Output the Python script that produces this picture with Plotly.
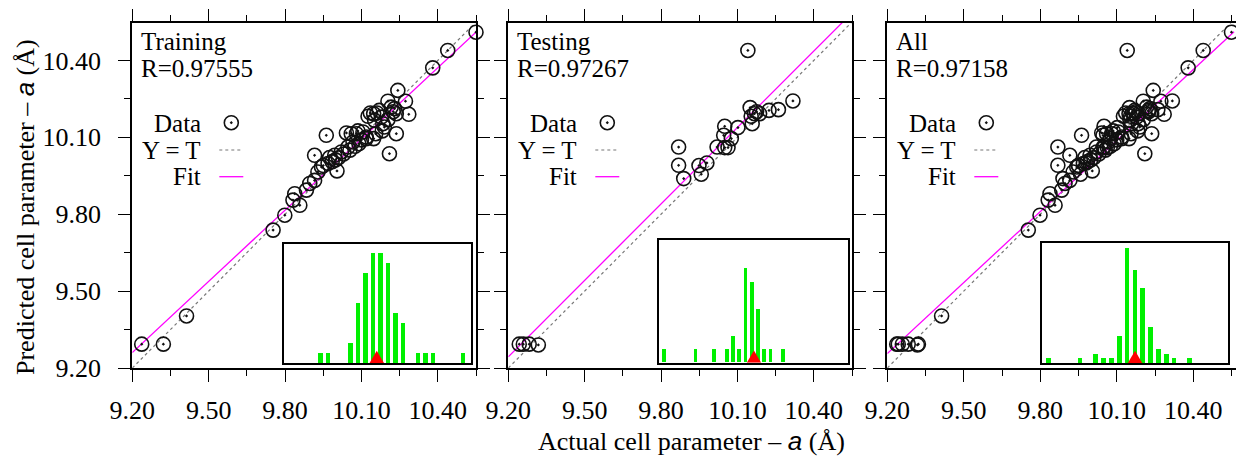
import plotly.graph_objects as go

# page places the figure 8 px from the top-left corner of the window
OFF = 8
W, H = 1244 - OFF, 456 - OFF

# ---------------- data ----------------
train_actual = [10.550, 10.439, 10.380, 10.243, 10.204, 10.273, 10.286, 10.230, 10.237, 10.217,
                10.135, 10.148, 10.161, 10.126, 10.152, 10.178, 10.204, 10.237, 10.182, 10.156,
                10.119, 10.148, 10.086, 10.060, 10.041, 9.962, 10.210, 10.067, 10.047, 10.021,
                9.995, 9.975, 9.916, 9.943, 9.929, 9.916, 9.897, 9.884, 10.004, 9.969,
                9.985, 9.998, 10.010, 10.030, 10.055, 10.090, 10.100, 9.838, 9.831, 9.858,
                9.799, 9.753, 9.413, 9.322, 9.237, 10.184, 10.106, 10.080, 10.119, 10.225,
                10.170, 10.190, 9.950, 10.075]
train_pred = [10.510, 10.439, 10.371, 10.283, 10.241, 10.241, 10.190, 10.212, 10.192, 10.218,
              10.195, 10.192, 10.195, 10.182, 10.166, 10.179, 10.169, 10.114, 10.125, 10.114,
              10.101, 10.095, 10.125, 10.114, 10.117, 10.108, 10.036, 10.082, 10.062, 10.043,
              10.030, 10.021, 10.030, 9.984, 9.965, 9.932, 9.920, 9.894, 9.969, 9.998,
              10.005, 10.012, 10.020, 10.035, 10.050, 10.075, 10.090, 9.880, 9.855, 9.835,
              9.796, 9.738, 9.403, 9.293, 9.293, 10.153, 10.121, 10.114, 10.095, 10.200,
              10.205, 10.140, 9.990, 10.065]

test_actual = [10.141, 10.318, 10.261, 10.224, 10.187, 10.167, 10.150, 10.154, 10.158, 10.102,
               10.050, 10.046, 10.076, 10.063, 10.050, 10.020, 9.869, 9.869, 9.889, 9.949,
               9.958, 9.980, 9.243, 9.259, 9.282, 9.318, 10.175]
test_pred = [10.439, 10.242, 10.208, 10.205, 10.192, 10.192, 10.216, 10.182, 10.153, 10.138,
             10.143, 10.108, 10.095, 10.060, 10.060, 10.062, 10.062, 9.991, 9.939, 9.990,
             9.956, 10.000, 9.293, 9.293, 9.293, 9.290, 10.200]

all_actual = train_actual + test_actual
all_pred = train_pred + test_pred

panel_names = ["Training", "Testing", "All"]
panel_r = ["R=0.97555", "R=0.97267", "R=0.97158"]
fit_slope = [0.926, 0.994, 0.923]
fit_intercept = [0.741, 0.099, 0.765]

tick_vals = [9.20, 9.50, 9.80, 10.10, 10.40]
tick_text = ["9.20", "9.50", "9.80", "10.10", "10.40"]
minor_vals = [9.35, 9.65, 9.95, 10.25, 10.55]

# error histograms (bin index, count) and position of the zero marker
hist_bins_train = [0, 1, 4, 5, 6, 7, 8, 9, 10, 11, 13, 14, 15, 19]
hist_counts_train = [1, 1, 2, 6, 9, 11, 11, 10, 5, 4, 1, 1, 1, 1]
hist_bins_test = [0, 5, 8, 10, 11, 12, 13, 14, 15, 16, 17, 19]
hist_counts_test = [1, 1, 1, 1, 2, 1, 7, 6, 4, 1, 1, 1]
hist_bins_all = [0, 4, 6, 7, 8, 9, 10, 11, 12, 13, 14, 15, 16, 18]
hist_counts_all = [1, 1, 2, 1, 1, 6, 26, 21, 17, 8, 3, 2, 1, 1]
zero_marker = [7.52, 14.35, 10.98]

# ---------------- layout geometry (window pixels) ----------------
main_px = [(132.3, 476.0), (508.3, 852.0), (887.3, 1241.7)]
main_xrange = [(9.2, 10.55), (9.2, 10.55), (9.2, 10.59)]
main_top, main_bot = 22.5, 368.0
main_yrange = (9.2, 10.548)

inset_px = [(284.0, 471.0, 244.0, 363.0), (659.0, 848.3, 240.3, 362.7), (1042.3, 1227.7, 243.3, 363.0)]
inset_xrange = [(-4.87, 20.1), (-0.85, 29.45), (-0.85, 22.8)]
inset_yrange = [(0, 11.95), (0, 9.12), (0, 27.1)]

SERIF = "Liberation Serif"


def px(x):
    return (x - OFF) / W


def py(y):
    return 1 - (y - OFF) / H


fig = go.Figure()

datasets = [(train_actual, train_pred), (test_actual, test_pred), (all_actual, all_pred)]
hists = [(hist_bins_train, hist_counts_train), (hist_bins_test, hist_counts_test),
         (hist_bins_all, hist_counts_all)]

annotations = []
shapes = []

for i in range(3):
    xa = "x" if i == 0 else f"x{i + 1}"
    ya = "y" if i == 0 else f"y{i + 1}"
    xi = f"x{i + 4}"
    yi = f"y{i + 4}"
    x0, x1 = main_xrange[i]
    y0, y1 = main_yrange
    lpx, rpx = main_px[i]
    ppx = (rpx - lpx) / (x1 - x0)
    ppy = (main_bot - main_top) / (y1 - y0)

    # Y = T line
    fig.add_trace(go.Scatter(x=[9.2, 10.6], y=[9.2, 10.6], mode="lines",
                             line=dict(color="#777777", width=1.2, dash="dot"),
                             xaxis=xa, yaxis=ya, showlegend=False, hoverinfo="skip"))
    # Fit line
    fx = [9.2, 10.56]
    fy = [fit_intercept[i] + fit_slope[i] * v for v in fx]
    fig.add_trace(go.Scatter(x=fx, y=fy, mode="lines",
                             line=dict(color="#ff00ff", width=1.3),
                             xaxis=xa, yaxis=ya, showlegend=False, hoverinfo="skip"))
    # Data
    ax, ay = datasets[i]
    fig.add_trace(go.Scatter(x=ax, y=ay, mode="markers",
                             marker=dict(symbol="circle-open-dot", size=14, color="#111111",
                                         line=dict(width=1.6, color="#111111")),
                             cliponaxis=False, xaxis=xa, yaxis=ya, showlegend=False))
    # legend symbol (circle)
    lx = x0 + 99.0 / ppx
    ly = y1 - (122.7 - main_top) / ppy
    fig.add_trace(go.Scatter(x=[lx], y=[ly], mode="markers",
                             marker=dict(symbol="circle-open-dot", size=14, color="#111111",
                                         line=dict(width=1.6, color="#111111")),
                             cliponaxis=False, xaxis=xa, yaxis=ya, showlegend=False,
                             hoverinfo="skip"))
    # legend lines
    shapes.append(dict(type="line", xref="paper", yref="paper",
                       x0=px(lpx + 87), x1=px(lpx + 111), y0=py(150), y1=py(150),
                       line=dict(color="#777777", width=1.2, dash="dot")))
    shapes.append(dict(type="line", xref="paper", yref="paper",
                       x0=px(lpx + 87), x1=px(lpx + 111), y0=py(176.7), y1=py(176.7),
                       line=dict(color="#ff00ff", width=1.3)))
    # legend texts
    for txt, yy in [("Data", 123.3), ("Y = T", 150.0), ("Fit", 176.7)]:
        annotations.append(dict(text=txt, xref="paper", yref="paper", x=px(lpx + 70.5), y=py(yy),
                                xanchor="right", yanchor="middle", showarrow=False,
                                font=dict(family=SERIF, size=25, color="black")))
    annotations.append(dict(text=panel_names[i], xref="paper", yref="paper", x=px(lpx + 7), y=py(41.7),
                            xanchor="left", yanchor="middle", showarrow=False,
                            font=dict(family=SERIF, size=25, color="black")))
    annotations.append(dict(text=panel_r[i], xref="paper", yref="paper", x=px(lpx + 7), y=py(68.5),
                            xanchor="left", yanchor="middle", showarrow=False,
                            font=dict(family=SERIF, size=25, color="black")))

    # inset histogram
    hb, hc = hists[i]
    fig.add_trace(go.Bar(x=hb, y=hc, width=0.6, marker=dict(color="#00f000", line=dict(width=0)),
                         xaxis=xi, yaxis=yi, showlegend=False))
    il, ir, it, ib = inset_px[i]
    ix0, ix1 = inset_xrange[i]
    iy0, iy1 = inset_yrange[i]
    hw = 7.2 * (ix1 - ix0) / (ir - il)
    th = 12.3 * (iy1 - iy0) / (ib - it)
    c = zero_marker[i]
    fig.add_trace(go.Scatter(x=[c - hw, c + hw, c, c - hw], y=[0, 0, th, 0], mode="lines",
                             fill="toself", fillcolor="#ff0000", line=dict(color="#ff0000", width=0),
                             xaxis=xi, yaxis=yi, showlegend=False, hoverinfo="skip"))

layout = dict(
    width=W, height=H,
    margin=dict(l=0, r=0, t=0, b=0, pad=0, autoexpand=False),
    paper_bgcolor="white", plot_bgcolor="white",
    showlegend=False,
    font=dict(family=SERIF, size=26, color="black"),
    bargap=0,
)

for i in range(3):
    xk = "xaxis" if i == 0 else f"xaxis{i + 1}"
    yk = "yaxis" if i == 0 else f"yaxis{i + 1}"
    lpx, rpx = main_px[i]
    common = dict(showgrid=False, zeroline=False, showline=True, linecolor="black", linewidth=2,
                  mirror="allticks", ticks="outside", ticklen=12, tickwidth=1.3, tickcolor="black",
                  tickvals=tick_vals, ticktext=tick_text, automargin=False,
                  minor=dict(tickvals=minor_vals, ticks="outside", ticklen=6, tickwidth=1.3,
                             tickcolor="black"),
                  tickfont=dict(family=SERIF, size=26, color="black"), fixedrange=True)
    layout[xk] = dict(common, domain=[px(lpx), px(rpx)], range=list(main_xrange[i]),
                      anchor="y" if i == 0 else f"y{i + 1}", ticklabelstandoff=6)
    layout[yk] = dict(common, domain=[py(main_bot), py(main_top)], range=list(main_yrange),
                      anchor="x" if i == 0 else f"x{i + 1}", showticklabels=(i == 0),
                      ticklabelstandoff=12)
    il, ir, it, ib = inset_px[i]
    inset_common = dict(showgrid=False, zeroline=False, showline=True, linecolor="black", linewidth=2,
                        mirror=True, ticks="", showticklabels=False, fixedrange=True, automargin=False)
    layout[f"xaxis{i + 4}"] = dict(inset_common, domain=[px(il), px(ir)], range=list(inset_xrange[i]),
                                   anchor=f"y{i + 4}")
    layout[f"yaxis{i + 4}"] = dict(inset_common, domain=[py(ib), py(it)], range=list(inset_yrange[i]),
                                   anchor=f"x{i + 4}")

a_it = "<i><span style='font-family:Liberation Sans'>a</span></i>"
annotations.append(dict(text="Actual cell parameter – " + a_it + " (Å)", xref="paper", yref="paper",
                        x=px(691), y=py(441), xanchor="center", yanchor="middle", showarrow=False,
                        font=dict(family=SERIF, size=26, color="black")))
annotations.append(dict(text="Predicted cell parameter – " + a_it + " (Å)", xref="paper", yref="paper",
                        x=px(25), y=py(207), xanchor="center", yanchor="middle", showarrow=False,
                        textangle=-90, font=dict(family=SERIF, size=26, color="black")))

layout["annotations"] = annotations
layout["shapes"] = shapes
fig.update_layout(**layout)

fig.write_html("out.html", config={"displayModeBar": False})
